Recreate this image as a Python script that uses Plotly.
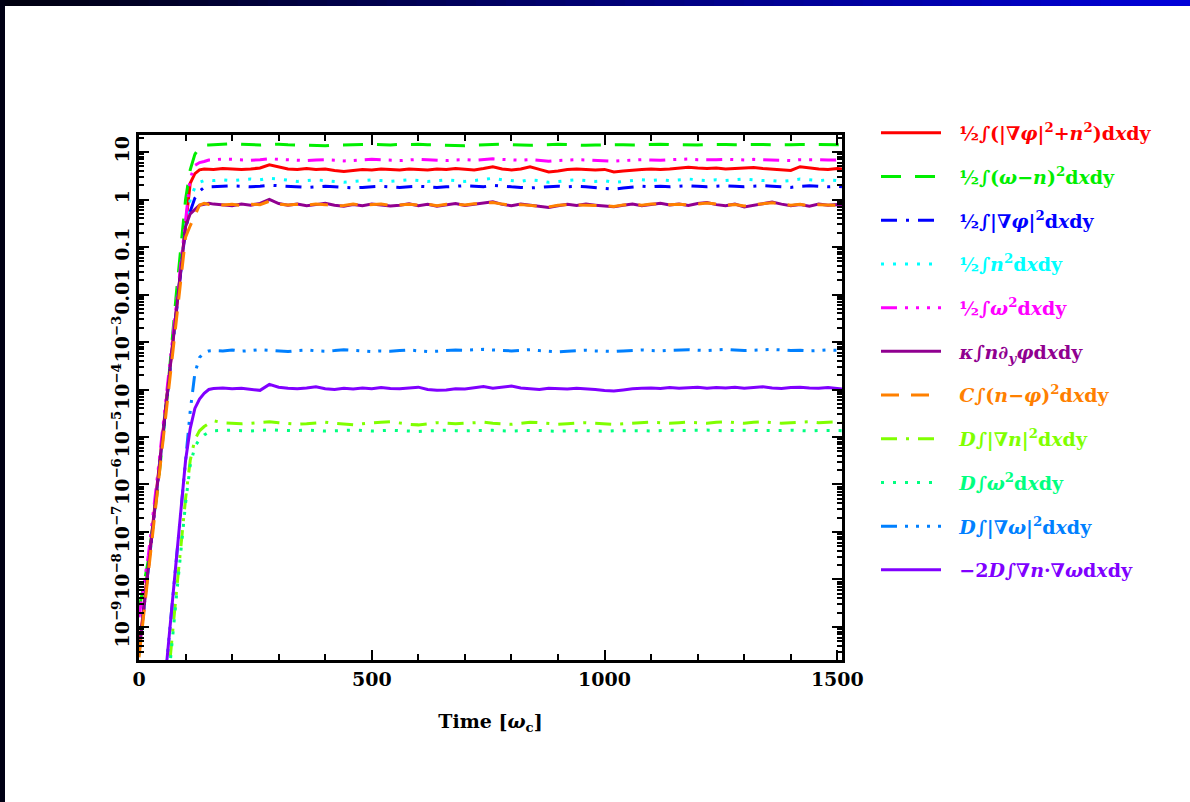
import plotly.graph_objects as go

# ---------------- data ----------------
t_growth = [0, 20, 40, 60, 80, 100, 110, 120, 130, 140, 150]
t_plateau = list(range(160, 1501, 20)) + [1510]
time = t_growth + t_plateau

red_growth = [3.2e-10, 2.0e-8, 1.3e-6, 7.9e-5, 5.0e-3, 0.32, 2.2, 3.5, 4.2, 4.4, 4.4]
red_plateau = [4.3, 4.5, 4.4, 4.3, 4.4, 4.6, 5.4, 4.8, 4.4, 4.3,
               4.5, 4.3, 4.4, 4.1, 3.9, 4.1, 4.3, 4.2, 4.4, 4.3,
               4.2, 4.4, 4.3, 4.2, 4.4, 4.3, 4.5, 4.3, 4.2, 4.5,
               4.9, 4.4, 4.2, 4.4, 4.9, 4.3, 3.8, 4.0, 4.3, 4.4,
               4.3, 4.2, 4.3, 3.8, 4.0, 4.2, 4.3, 4.4, 4.3, 4.4,
               4.6, 4.8, 4.6, 4.5, 4.6, 4.4, 4.5, 4.6, 4.7, 4.5,
               4.4, 4.3, 4.1, 4.9, 4.6, 4.4, 4.3, 4.5, 4.4]

green_growth = [2.3e-9, 2.5e-8, 7.9e-7, 6.3e-5, 1.0e-2, 1.0, 4.2, 8.9, 12.6, 14.1, 14.1]
green_plateau = [14.3, 14.8, 15.0, 14.6, 14.2, 14.0, 14.4, 14.6, 14.2, 14.0,
                 13.6, 13.3, 13.5, 14.0, 14.3, 14.1, 14.4, 14.6, 14.3, 14.1,
                 14.4, 14.6, 14.5, 14.2, 14.0, 13.6, 13.3, 13.6, 14.0, 14.3,
                 14.4, 14.6, 14.3, 14.0, 13.8, 14.1, 14.4, 14.5, 14.3, 14.0,
                 13.8, 14.0, 14.2, 14.5, 14.3, 14.0, 14.2, 14.5, 14.6, 14.3,
                 14.1, 13.9, 14.1, 14.4, 14.6, 14.4, 14.2, 14.3, 14.5, 14.4,
                 14.1, 14.0, 14.2, 14.4, 14.3, 14.2, 14.4, 14.3, 14.2]

blue_growth = [2.8e-10, 1.8e-8, 1.1e-6, 7.1e-5, 4.5e-3, 0.25, 0.56, 1.07, 1.5, 1.8, 1.85]
blue_plateau = [1.85, 1.9, 1.95, 1.9, 1.85, 1.9, 2.0, 1.95, 1.9, 1.85,
                1.8, 1.85, 1.9, 1.85, 1.8, 1.75, 1.8, 1.85, 1.9, 1.85,
                1.8, 1.85, 1.9, 1.85, 1.8, 1.85, 1.9, 1.95, 1.9, 1.85,
                2.0, 1.9, 1.85, 1.8, 1.75, 1.8, 1.85, 1.9, 1.85, 1.9,
                1.85, 1.8, 1.75, 1.65, 1.75, 1.85, 1.9, 1.85, 1.9, 1.85,
                1.9, 1.95, 1.9, 1.85, 1.9, 1.95, 1.9, 1.85, 1.9, 1.95,
                1.9, 1.85, 1.8, 1.9, 1.95, 1.9, 1.85, 1.9, 1.85]

cyan_growth = [2.5e-10, 1.6e-8, 1.0e-6, 6.3e-5, 4.0e-3, 0.28, 1.0, 1.8, 2.3, 2.5, 2.55]
cyan_plateau = [2.5, 2.6, 2.5, 2.6, 2.7, 2.6, 2.8, 2.7, 2.5, 2.4,
                2.5, 2.6, 2.5, 2.4, 2.3, 2.4, 2.5, 2.6, 2.5, 2.4,
                2.5, 2.6, 2.5, 2.4, 2.5, 2.6, 2.5, 2.4, 2.5, 2.6,
                2.8, 2.6, 2.5, 2.4, 2.6, 2.5, 2.3, 2.4, 2.5, 2.6,
                2.5, 2.4, 2.5, 2.3, 2.4, 2.5, 2.6, 2.5, 2.6, 2.5,
                2.6, 2.7, 2.6, 2.5, 2.6, 2.5, 2.6, 2.7, 2.6, 2.5,
                2.5, 2.4, 2.5, 2.7, 2.6, 2.5, 2.6, 2.5, 2.6]

magenta_growth = [1.6e-9, 3.2e-8, 1.6e-6, 1.0e-4, 6.3e-3, 0.45, 2.8, 5.2, 6.0, 6.3, 6.8]
magenta_plateau = [6.9, 7.1, 7.0, 6.8, 6.7, 6.9, 7.2, 7.0, 6.8, 6.7,
                   6.6, 6.8, 6.9, 6.7, 6.5, 6.6, 6.8, 7.0, 6.9, 6.7,
                   6.6, 6.8, 7.0, 6.9, 6.7, 6.6, 6.8, 6.9, 6.7, 6.9,
                   7.2, 7.0, 6.8, 6.7, 6.9, 6.6, 6.4, 6.6, 6.8, 6.9,
                   6.8, 6.7, 6.6, 6.4, 6.6, 6.8, 6.9, 6.8, 6.7, 6.9,
                   7.0, 7.1, 6.9, 6.8, 6.9, 7.0, 6.9, 6.8, 7.0, 6.9,
                   6.8, 6.7, 6.6, 6.9, 7.0, 6.9, 6.8, 6.9, 6.8]

purple_growth = [2.8e-10, 1.8e-8, 1.1e-6, 7.1e-5, 4.5e-3, 0.27, 0.5, 0.63, 0.76, 0.79, 0.83]
purple_plateau = [0.80, 0.78, 0.74, 0.80, 0.76, 0.83, 1.00, 0.82, 0.76, 0.80,
                  0.74, 0.78, 0.83, 0.76, 0.72, 0.78, 0.74, 0.80, 0.77, 0.73,
                  0.76, 0.81, 0.74, 0.79, 0.72, 0.77, 0.82, 0.75, 0.79, 0.84,
                  0.90, 0.79, 0.74, 0.80, 0.76, 0.70, 0.68, 0.74, 0.79, 0.75,
                  0.80, 0.76, 0.72, 0.70, 0.76, 0.80, 0.74, 0.78, 0.83, 0.77,
                  0.80, 0.75, 0.82, 0.86, 0.78, 0.74, 0.80, 0.70, 0.76, 0.82,
                  0.88, 0.80, 0.74, 0.78, 0.72, 0.80, 0.76, 0.78, 0.74]

orange_growth = [2.3e-10, 1.3e-8, 7.9e-7, 5.0e-5, 3.2e-3, 0.16, 0.28, 0.47, 0.76, 0.83, 0.79]
orange_plateau = [0.82, 0.77, 0.79, 0.75, 0.80, 0.78, 0.92, 0.80, 0.77, 0.79,
                  0.76, 0.80, 0.78, 0.73, 0.75, 0.80, 0.76, 0.78, 0.80, 0.75,
                  0.78, 0.79, 0.76, 0.80, 0.74, 0.79, 0.80, 0.77, 0.81, 0.82,
                  0.86, 0.80, 0.76, 0.78, 0.74, 0.72, 0.70, 0.76, 0.78, 0.77,
                  0.78, 0.77, 0.74, 0.71, 0.77, 0.79, 0.76, 0.80, 0.81, 0.78,
                  0.79, 0.77, 0.80, 0.84, 0.80, 0.76, 0.78, 0.73, 0.78, 0.80,
                  0.85, 0.81, 0.76, 0.79, 0.74, 0.78, 0.77, 0.76, 0.75]

chartreuse_growth = [2.5e-17, 3.2e-15, 4.0e-13, 5.0e-11, 5.0e-9, 5.0e-7, 3.2e-6, 8.9e-6, 1.35e-5, 1.66e-5, 1.9e-5]
chartreuse_plateau = [2.2e-5, 2.0e-5, 1.95e-5, 1.9e-5, 1.95e-5, 2.0e-5, 2.1e-5, 2.0e-5, 1.9e-5, 1.85e-5,
                      1.9e-5, 2.0e-5, 2.05e-5, 1.95e-5, 1.85e-5, 1.8e-5, 1.9e-5, 2.0e-5, 2.05e-5, 2.1e-5,
                      1.95e-5, 1.85e-5, 1.8e-5, 1.9e-5, 2.0e-5, 1.95e-5, 1.9e-5, 1.95e-5, 2.0e-5, 2.05e-5,
                      1.95e-5, 1.9e-5, 1.85e-5, 1.95e-5, 2.05e-5, 2.0e-5, 1.9e-5, 1.85e-5, 1.9e-5, 1.95e-5,
                      2.0e-5, 1.95e-5, 1.9e-5, 1.85e-5, 1.9e-5, 1.95e-5, 2.0e-5, 2.05e-5, 2.0e-5, 1.95e-5,
                      2.0e-5, 2.05e-5, 2.0e-5, 1.95e-5, 2.05e-5, 2.1e-5, 2.0e-5, 1.95e-5, 2.05e-5, 2.1e-5,
                      2.0e-5, 1.95e-5, 2.0e-5, 2.05e-5, 2.1e-5, 2.0e-5, 2.05e-5, 2.1e-5, 2.05e-5]

spring_growth = [2.0e-17, 2.5e-15, 3.2e-13, 4.0e-11, 4.0e-9, 4.0e-7, 2.5e-6, 6.3e-6, 8.9e-6, 1.1e-5, 1.26e-5]
spring_plateau = [1.35e-5, 1.38e-5, 1.4e-5, 1.36e-5, 1.33e-5, 1.38e-5, 1.42e-5, 1.38e-5, 1.35e-5, 1.37e-5,
                  1.4e-5, 1.36e-5, 1.33e-5, 1.35e-5, 1.38e-5, 1.4e-5, 1.37e-5, 1.34e-5, 1.36e-5, 1.39e-5,
                  1.36e-5, 1.33e-5, 1.31e-5, 1.34e-5, 1.37e-5, 1.39e-5, 1.36e-5, 1.34e-5, 1.37e-5, 1.4e-5,
                  1.38e-5, 1.35e-5, 1.33e-5, 1.36e-5, 1.39e-5, 1.37e-5, 1.34e-5, 1.32e-5, 1.35e-5, 1.38e-5,
                  1.36e-5, 1.34e-5, 1.32e-5, 1.35e-5, 1.37e-5, 1.39e-5, 1.36e-5, 1.34e-5, 1.37e-5, 1.39e-5,
                  1.37e-5, 1.35e-5, 1.38e-5, 1.4e-5, 1.37e-5, 1.35e-5, 1.38e-5, 1.4e-5, 1.38e-5, 1.36e-5,
                  1.35e-5, 1.37e-5, 1.39e-5, 1.36e-5, 1.34e-5, 1.37e-5, 1.39e-5, 1.37e-5, 1.36e-5]

azure_growth = [1.0e-16, 1.3e-14, 1.6e-12, 2.0e-10, 2.5e-8, 3.2e-6, 3.5e-5, 2.2e-4, 4.7e-4, 6.0e-4, 6.5e-4]
azure_plateau = [6.6e-4, 6.5e-4, 6.8e-4, 6.4e-4, 6.6e-4, 6.9e-4, 6.7e-4, 6.5e-4, 6.3e-4, 6.6e-4,
                 6.8e-4, 6.5e-4, 6.4e-4, 6.6e-4, 6.9e-4, 6.7e-4, 6.5e-4, 6.3e-4, 6.5e-4, 6.4e-4,
                 6.6e-4, 6.8e-4, 6.5e-4, 6.3e-4, 6.4e-4, 6.6e-4, 6.8e-4, 6.7e-4, 6.9e-4, 7.0e-4,
                 6.8e-4, 6.6e-4, 6.5e-4, 6.7e-4, 6.9e-4, 6.6e-4, 6.4e-4, 6.2e-4, 6.4e-4, 6.6e-4,
                 6.7e-4, 6.5e-4, 6.4e-4, 6.3e-4, 6.5e-4, 6.7e-4, 6.8e-4, 6.6e-4, 6.5e-4, 6.7e-4,
                 6.8e-4, 6.9e-4, 6.7e-4, 6.6e-4, 6.8e-4, 7.0e-4, 6.8e-4, 6.6e-4, 6.7e-4, 6.9e-4,
                 7.0e-4, 6.8e-4, 6.6e-4, 6.7e-4, 6.5e-4, 6.6e-4, 6.8e-4, 6.7e-4, 6.6e-4]

violet_growth = [1.0e-16, 1.3e-14, 1.6e-12, 2.1e-10, 2.5e-8, 3.2e-6, 1.5e-5, 4.0e-5, 6.3e-5, 8.3e-5, 1.0e-4]
violet_plateau = [1.05e-4, 1.07e-4, 1.04e-4, 1.06e-4, 1.0e-4, 0.96e-4, 1.28e-4, 1.12e-4, 1.06e-4, 1.04e-4,
                  1.08e-4, 1.14e-4, 1.04e-4, 1.0e-4, 1.06e-4, 1.02e-4, 1.08e-4, 1.04e-4, 1.1e-4, 1.05e-4,
                  1.04e-4, 1.08e-4, 1.12e-4, 1.0e-4, 0.96e-4, 0.98e-4, 1.04e-4, 1.02e-4, 1.1e-4, 1.15e-4,
                  1.06e-4, 1.12e-4, 1.18e-4, 1.08e-4, 1.04e-4, 1.0e-4, 1.06e-4, 1.04e-4, 1.02e-4, 1.06e-4,
                  1.04e-4, 1.0e-4, 0.95e-4, 0.93e-4, 0.98e-4, 1.04e-4, 1.06e-4, 1.08e-4, 1.05e-4, 1.1e-4,
                  1.06e-4, 1.08e-4, 1.12e-4, 1.06e-4, 1.1e-4, 1.08e-4, 1.12e-4, 1.06e-4, 1.1e-4, 1.14e-4,
                  1.08e-4, 1.05e-4, 1.1e-4, 1.12e-4, 1.08e-4, 1.06e-4, 1.1e-4, 1.04e-4, 1.02e-4]

y_tickvals = [10, 1, 0.1, 0.01, 1e-3, 1e-4, 1e-5, 1e-6, 1e-7, 1e-8, 1e-9]
y_ticktext = ["10", "1", "0.1", "0.01", "10<sup>−3</sup>", "10<sup>−4</sup>", "10<sup>−5</sup>",
              "10<sup>−6</sup>", "10<sup>−7</sup>", "10<sup>−8</sup>", "10<sup>−9</sup>"]
x_tickvals = [0, 500, 1000, 1500]

D = "d<i>x</i>dy"
series = [
    ("½∫(|∇<i>φ</i>|<sup>2</sup>+<i>n</i><sup>2</sup>)" + D, "#ff0000", "solid", red_growth + red_plateau),
    ("½∫(<i>ω</i>−<i>n</i>)<sup>2</sup>" + D, "#00ee00", "20px,14px", green_growth + green_plateau),
    ("½∫|∇<i>φ</i>|<sup>2</sup>" + D, "#0000ff", "16px,9px,3px,9px", blue_growth + blue_plateau),
    ("½∫<i>n</i><sup>2</sup>" + D, "#00ffff", "3px,9px", cyan_growth + cyan_plateau),
    ("½∫<i>ω</i><sup>2</sup>" + D, "#ff00ff", "16px,8px,3px,8px,3px,8px,3px,8px", magenta_growth + magenta_plateau),
    ("<i>κ</i>∫<i>n</i>∂<sub><i>y</i></sub><i>φ</i>" + D, "#900090", "solid", purple_growth + purple_plateau),
    ("<i>C</i>∫(<i>n</i>−<i>φ</i>)<sup>2</sup>" + D, "#ff8000", "18px,12px", orange_growth + orange_plateau),
    ("<i>D</i>∫|∇<i>n</i>|<sup>2</sup>" + D, "#80ff00", "16px,9px,3px,9px", chartreuse_growth + chartreuse_plateau),
    ("<i>D</i>∫<i>ω</i><sup>2</sup>" + D, "#00ff80", "3px,9px", spring_growth + spring_plateau),
    ("<i>D</i>∫|∇<i>ω</i>|<sup>2</sup>" + D, "#0080ff", "16px,8px,3px,8px,3px,8px,3px,8px", azure_growth + azure_plateau),
    ("−2<i>D</i>∫∇<i>n</i>·∇<i>ω</i>" + D, "#8000ff", "solid", violet_growth + violet_plateau),
]

FONT = "DejaVu Serif"

fig = go.Figure()
for i, (name, color, dash, vals) in enumerate(series):
    fig.add_trace(go.Scatter(
        x=time, y=vals, mode="lines",
        name=f"<span style='color:{color}'>  {name}</span>",
        legendgroup=f"g{i}",
        line=dict(color=color, width=3, dash=dash),
    ))

# decorative slide frame (top gradient band, left strip)
PL, PR, PT, PB = 139, 842, 135, 660
pw, ph = PR - PL, PB - PT
def px(x): return (x - PL) / pw
def py(y): return (PB - y) / ph
shapes = []
n = 40
for k in range(n):
    c = int(16 + (216 - 16) * k / (n - 1))
    shapes.append(dict(type="rect", xref="paper", yref="paper",
                       x0=px(1190 * k / n), x1=px(1190 * (k + 1) / n + 1),
                       y0=py(6), y1=py(0), line=dict(width=0),
                       fillcolor=f"rgb(0,0,{c})"))
shapes.append(dict(type="rect", xref="paper", yref="paper",
                   x0=px(0), x1=px(5), y0=py(802), y1=py(0),
                   line=dict(width=0), fillcolor="rgb(0,0,20)"))

minor_vals = [m * 10.0 ** k for k in range(-10, 2) for m in range(2, 10)]

fig.update_layout(
    width=1190, height=802,
    margin=dict(l=PL, r=1190 - PR, t=PT, b=802 - PB),
    paper_bgcolor="white", plot_bgcolor="white",
    showlegend=True,
    legend=dict(x=px(876), y=py(114), xanchor="left", yanchor="top",
                font=dict(family=FONT, size=19, weight="bold"),
                itemwidth=60, tracegroupgap=16, maxheight=700,
                bgcolor="rgba(0,0,0,0)"),
    shapes=shapes,
    xaxis=dict(range=[0, 1510], tickmode="array", tickvals=x_tickvals,
               ticks="inside", ticklen=10, tickwidth=2, tickcolor="black",
               minor=dict(dtick=100, tick0=0, ticks="inside", ticklen=6, tickwidth=2, tickcolor="black"),
               showline=True, linewidth=2.5, linecolor="black", mirror="allticks",
               showgrid=False, zeroline=False,
               tickfont=dict(family=FONT, size=19, weight="bold", color="black"),
               title=dict(text="Time [<i>ω</i><sub>c</sub>]", standoff=27,
                          font=dict(family=FONT, size=19, weight="bold", color="black"))),
    yaxis=dict(type="log", range=[-9.695, 1.358], tickmode="array",
               tickvals=y_tickvals, ticktext=y_ticktext, tickangle=-90,
               ticks="inside", ticklen=10, tickwidth=2, tickcolor="black",
               minor=dict(tickmode="array", tickvals=minor_vals, ticks="inside",
                          ticklen=5, tickwidth=1.5, tickcolor="black"),
               showline=True, linewidth=2.5, linecolor="black", mirror="allticks",
               showgrid=False, zeroline=False,
               tickfont=dict(family=FONT, size=19, weight="bold", color="black")),
)

fig.write_html("out.html", config={"displayModeBar": False},
               post_script="document.body.style.margin='0px';")
